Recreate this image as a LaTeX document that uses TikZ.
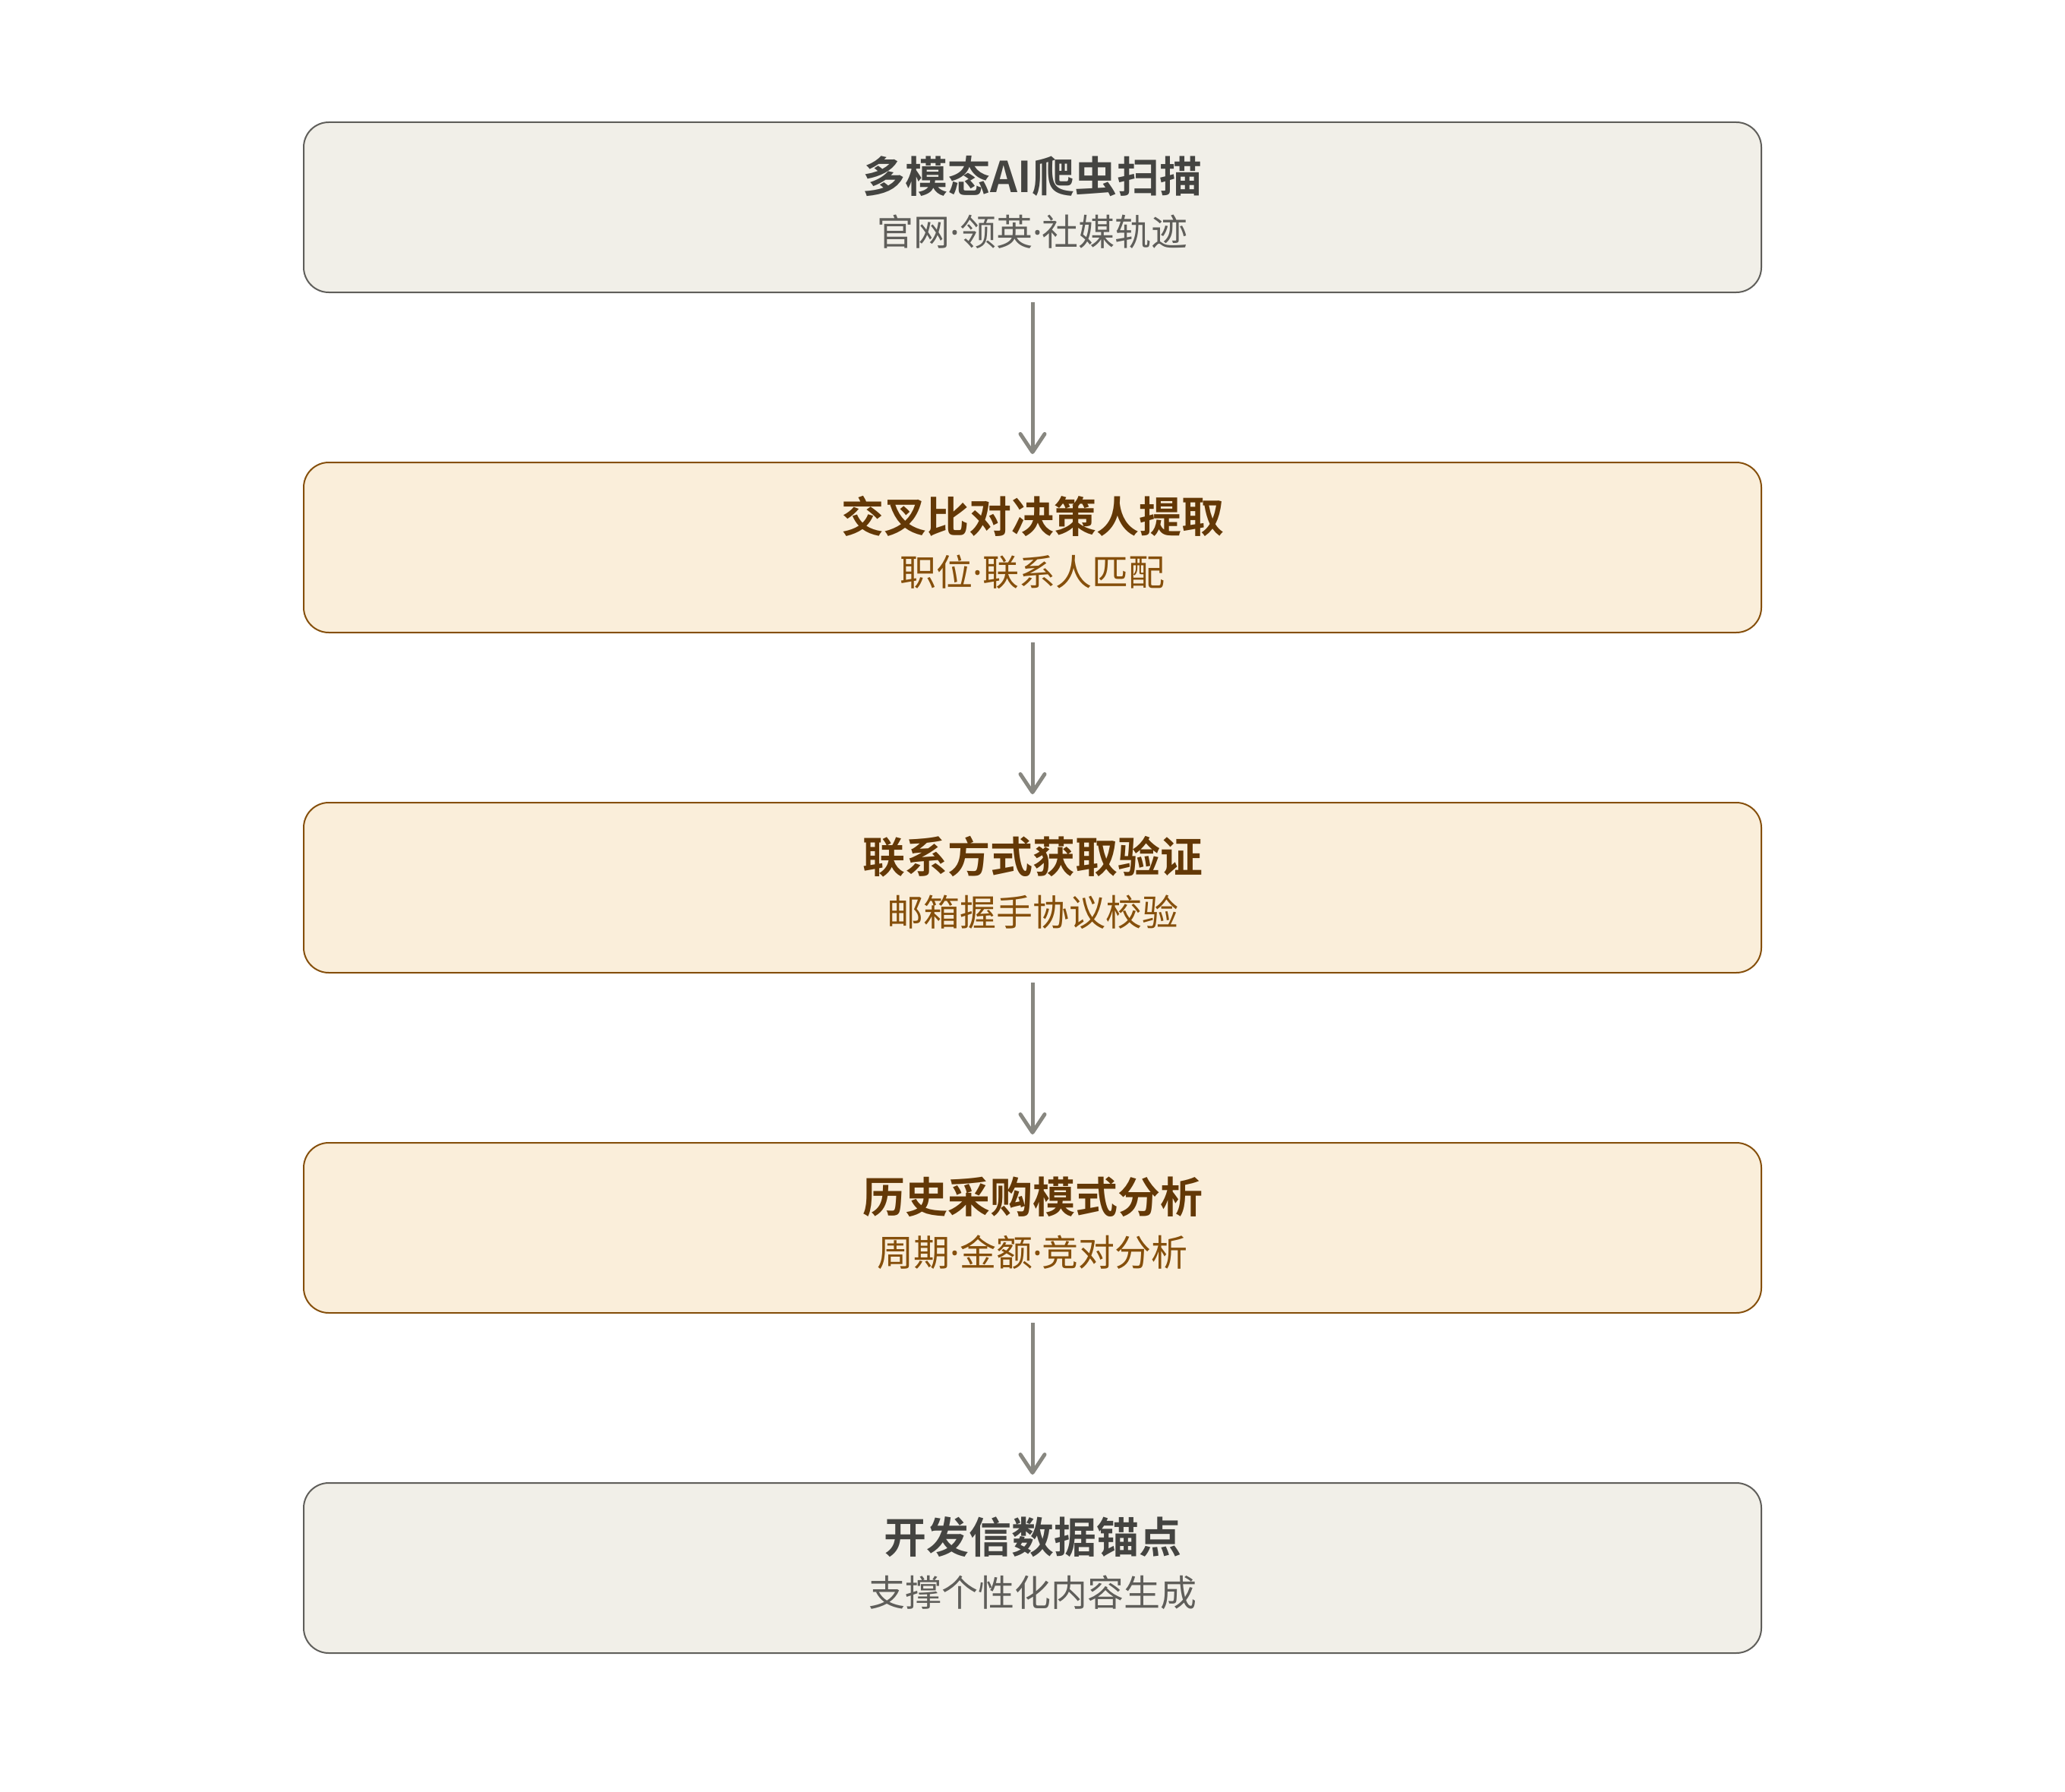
\documentclass[tikz,border=0pt]{standalone}
\usepackage{fontspec}
\setmainfont{Noto Sans CJK SC}
\newfontfamily\cjkbold{Noto Sans CJK SC Bold}
\newfontfamily\latinfont{Noto Sans}
\newcommand\mdot{{\latinfont ·}}
\usetikzlibrary{arrows.meta}
\definecolor{grayfill}{HTML}{F1EFE8}
\definecolor{grayline}{HTML}{5F5E5A}
\definecolor{graytitle}{HTML}{444441}
\definecolor{graysub}{HTML}{5F5E5A}
\definecolor{amberfill}{HTML}{FAEEDA}
\definecolor{amberline}{HTML}{854F0B}
\definecolor{ambertitle}{HTML}{633806}
\definecolor{ambersub}{HTML}{854F0B}
\definecolor{arrowcol}{HTML}{888780}
\tikzset{
  stepbox/.style={draw, line width=1pt, rounded corners=16.5pt, minimum width=960pt, minimum height=112pt, inner sep=0pt, anchor=north},
  graybox/.style={stepbox, fill=grayfill, draw=grayline},
  amberbox/.style={stepbox, fill=amberfill, draw=amberline},
  titletext/.style={inner sep=0pt, font=\cjkbold\fontsize{28pt}{32pt}\selectfont},
  subtext/.style={inner sep=0pt, font=\fontsize{24pt}{28pt}\selectfont},
  flowarrow/.style={draw=arrowcol, line width=2.5pt, -{Straight Barb[length=12pt, width=16pt, line cap=round, line join=round]}},
}
\begin{document}
\begin{tikzpicture}
\useasboundingbox (0,0) rectangle (1360pt,-1180pt);
\foreach \i/\sty/\tcol/\scol/\title/\sub in {
  1/graybox/graytitle/graysub/多模态AI爬虫扫描/官网\mdot 领英\mdot 社媒轨迹,
  2/amberbox/ambertitle/ambersub/交叉比对决策人提取/职位\mdot 联系人匹配,
  3/amberbox/ambertitle/ambersub/联系方式获取验证/邮箱握手协议校验,
  4/amberbox/ambertitle/ambersub/历史采购模式分析/周期\mdot 金额\mdot 竞对分析,
  5/graybox/graytitle/graysub/开发信数据锚点/支撑个性化内容生成}{
  \node[\sty] (b\i) at (680pt,{-80pt-224pt*(\i-1)}) {};
  \node[titletext, text=\tcol] (t\i) at ([yshift=-36pt]b\i.north) {\title};
  \node[subtext, text=\scol] (s\i) at ([yshift=-72.5pt]b\i.north) {\sub};
}
\foreach \i [evaluate=\i as \j using int(\i+1)] in {1,2,3,4}{
  \draw[flowarrow] ([yshift=-6pt]b\i.south) -- ([yshift=5pt]b\j.north);
}
\end{tikzpicture}
\end{document}
